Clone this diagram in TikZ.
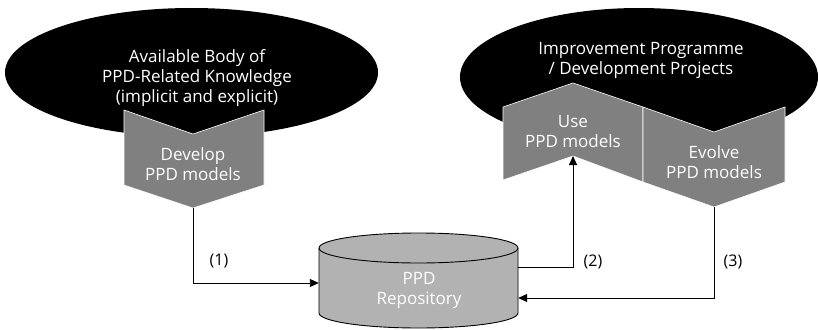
\documentclass[tikz,border=0pt]{standalone}
\usepackage{fontspec}
\setmainfont{Open Sans}
\usetikzlibrary{shapes.geometric,arrows.meta}
\definecolor{chevgray}{RGB}{128,128,128}
\definecolor{repogray}{RGB}{178,178,178}
\tikzset{blob/.style={ellipse, fill=black, inner sep=0pt}}
\tikzset{chevron/.style={fill=chevgray, draw=white, line width=0.6pt}}
\tikzset{intext/.style={text=white, align=center, font=\fontsize{17}{20}\selectfont}}
\tikzset{flow/.style={line width=0.9pt, -{Triangle[length=9pt,width=8pt]}}}
\tikzset{tag/.style={font=\fontsize{16}{18}\selectfont}}
\tikzset{drum/.style={fill=repogray, draw=black, line width=0.9pt}}

\begin{document}
\begin{tikzpicture}[x=1pt,y=-1pt]

        \useasboundingbox (0,0) rectangle (818,329);
%        \draw[style=help lines, step=10] (0,0) grid (818,329);

        \node[blob, minimum width=373pt, minimum height=129pt] (knowledge) at (191.5,72.5) {};
        \node[intext] (knowtext) at (197,78) {Available Body of\\PPD-Related Knowledge\\(implicit and explicit)};
        \node[blob, minimum width=358pt, minimum height=138pt] (projects) at (639,77) {};
        \node[intext] (projtext) at (641,60) {Improvement Programme\\/ Development Projects};

				\draw[chevron] (124,110) -- (193,134) -- (264,110) -- (264,185) -- (193,208) -- (124,185) -- cycle;
				\draw[chevron] (503,107) -- (573,83) -- (643,107) -- (643,182) -- (573,156) -- (503,180) -- cycle;
				\draw[chevron] (643,107) -- (714,132) -- (785,107) -- (785,182) -- (714,207) -- (643,182) -- cycle;
				\coordinate (develop tip) at (193,208);
				\coordinate (use notch) at (573,156);
				\coordinate (evolve tip) at (714,207);
				\node[intext] (develop) at (193,164) {Develop\\PPD models};
				\node[intext] (use) at (573,132) {Use\\PPD models};
				\node[intext] (evolve) at (714,162) {Evolve\\PPD models};

        \draw[drum] (319,248) -- (319,313) arc[start angle=180, end angle=360, x radius=99.5pt, y radius=15pt]
              -- (518,248) arc[start angle=0, end angle=180, x radius=99.5pt, y radius=15pt] -- cycle;
        \draw[line width=0.9pt] (319,248) arc[start angle=180, end angle=360, x radius=99.5pt, y radius=15pt];
        \node[inner sep=0pt, minimum width=199pt, minimum height=95pt] (repo) at (418.5,280.5) {};
        \node[intext] (repotext) at (419,290) {PPD\\Repository};

				\draw[flow] (develop tip) |- ([yshift=-2.5pt]repo.west);
				\draw[flow] ([yshift=13.5pt]repo.east) -| (use notch);
				\draw[flow] (evolve tip) |- ([yshift=-17.5pt]repo.east);
				\node[tag] (one) at (219,261) {(1)};
				\node[tag] (two) at (593,262) {(2)};
				\node[tag] (three) at (733,262) {(3)};

\end{tikzpicture}
\end{document}
